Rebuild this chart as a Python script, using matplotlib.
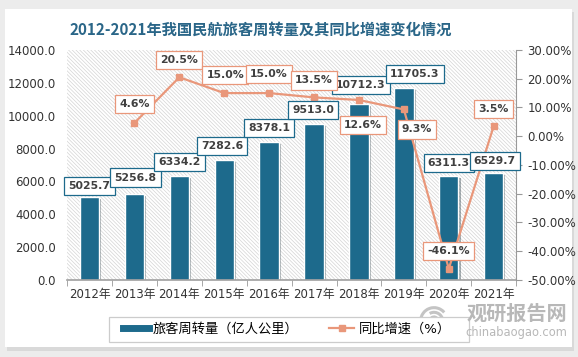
import matplotlib
matplotlib.use('Agg')
import matplotlib.pyplot as plt
import matplotlib.patheffects as pe
from matplotlib.patches import Rectangle, Arc
from matplotlib.lines import Line2D

plt.rcParams['font.family'] = ['DejaVu Sans', 'Noto Sans CJK SC']
plt.rcParams['hatch.linewidth'] = 0.5

years = ['2012年', '2013年', '2014年', '2015年', '2016年',
         '2017年', '2018年', '2019年', '2020年', '2021年']
turnover = [5025.7, 5256.8, 6334.2, 7282.6, 8378.1, 9513.0, 10712.3, 11705.3, 6311.3, 6529.7]
growth = [4.6, 20.5, 15.0, 15.0, 13.5, 12.6, 9.3, -46.1, 3.5]   # 2013-2021

# label offsets (pixels, dx, dy up)
bar_off = [(0, 11), (1, 16), (0, 14), (-2, 14), (0, 14), (-1, 14), (2, 19), (11, 14), (0, 13), (1, 12)]
line_off = [(0, 19), (0, 17), (1, 18), (0, 19), (0, 17), (4, -25), (13, -20), (0, 18), (0, 17)]

blue = '#1d6a8c'
salmon = '#e9977a'
txt = '#404040'

fig = plt.figure(figsize=(5.78, 3.57), dpi=100, facecolor='#ececec')

# card background with a soft shadow
fig.patches.append(Rectangle((0.012, 0.018), 0.981, 0.947, transform=fig.transFigure,
                             facecolor='#d9d9d9', edgecolor='none', zorder=-2))
fig.patches.append(Rectangle((0.0087, 0.028), 0.981, 0.947, transform=fig.transFigure,
                             facecolor='white', edgecolor='none', zorder=-1))

ax1 = fig.add_axes([0.116, 0.216, 0.777, 0.644])
ax2 = ax1.twinx()

ax1.add_patch(Rectangle((0, 0), 1, 1, transform=ax1.transAxes, facecolor='white',
                        edgecolor='#d4d4d4', hatch='\\' * 9, lw=0, zorder=0.5))

x = list(range(len(years)))
bars = ax1.bar(x, turnover, width=0.43, color=blue, edgecolor='white', linewidth=1, zorder=2)
for b in bars:
    b.set_path_effects([pe.SimplePatchShadow(offset=(1.5, -1.5), alpha=0.35), pe.Normal()])

ax1.set_xlim(-0.5, 9.5)
ax1.set_ylim(0, 14000)
ax1.set_yticks(range(0, 14001, 2000))
ax1.set_yticklabels([f'{v:.1f}' for v in range(0, 14001, 2000)], fontsize=8.5, color='#333333')
ax1.set_xticks(x)
ax1.set_xticklabels(years, fontsize=8.5, color='#333333')
ax1.set_xticks([i + 0.5 for i in range(-1, 10)], minor=True)
ax1.tick_params(axis='x', which='major', length=0, pad=6)
ax1.tick_params(axis='x', which='minor', length=4, color='#999999')
ax1.tick_params(axis='y', length=0, pad=8)
for s in ['left', 'top', 'right']:
    ax1.spines[s].set_visible(False)
ax1.spines['bottom'].set_color('#a0a0a0')
ax1.spines['bottom'].set_linewidth(1.2)

ax2.plot(x[1:], growth, color=salmon, lw=1.6, marker='s', ms=5, zorder=3)
ax2.set_ylim(-50, 30)
ax2.set_yticks(range(-50, 31, 10))
ax2.set_yticklabels([f'{v:.2f}%' for v in range(-50, 31, 10)], fontsize=8.5, color='#333333')
ax2.tick_params(axis='y', length=4, color='#999999', pad=4)
for s in ['left', 'top', 'bottom']:
    ax2.spines[s].set_visible(False)
ax2.spines['right'].set_color('#999999')
ax2.spines['right'].set_linewidth(0.8)

for i, v in enumerate(turnover):
    ax2.annotate(f'{v:.1f}', xy=(x[i], v), xycoords=ax1.transData,
                 xytext=bar_off[i], textcoords='offset pixels', ha='center', va='center',
                 fontsize=7.8, fontweight='bold', color=txt, zorder=5,
                 bbox=dict(boxstyle='square,pad=0.38', fc='white', ec=blue, lw=0.9))
for i, v in enumerate(growth):
    ax2.annotate(f'{v:.1f}%', xy=(x[i + 1], v), xytext=line_off[i],
                 textcoords='offset pixels', ha='center', va='center',
                 fontsize=7.8, fontweight='bold', color=txt, zorder=5,
                 bbox=dict(boxstyle='square,pad=0.38', fc='white', ec=salmon, lw=0.9))

fig.text(0.4516, 0.916, '2012-2021年我国民航旅客周转量及其同比增速变化情况',
         ha='center', va='center', fontsize=11, fontweight='bold', color='#2a6688',
         family=['Noto Sans CJK SC'])

# legend: separate frame, wider than its contents
fig.patches.append(Rectangle((109 / 578, 1 - 342 / 357), 360 / 578, 25 / 357,
                             transform=fig.transFigure, facecolor='white',
                             edgecolor='#cccccc', lw=0.9, zorder=1))
handles = [Line2D([], [], color=blue, lw=5),
           Line2D([], [], color=salmon, lw=1.6, marker='s', ms=5)]
leg = fig.legend(handles, ['旅客周转量（亿人公里）', '同比增速（%）'], loc='center',
                 bbox_to_anchor=(0.497, 0.0775), ncol=2, frameon=False,
                 fontsize=9.5, handlelength=1.9, handletextpad=0.35,
                 columnspacing=2.3, borderpad=0, borderaxespad=0)
leg.set_zorder(2)

# watermark
logo = fig.add_axes([415 / 578, 20 / 357, 38 / 578, 32 / 357])
logo.set_xlim(-1.2, 1.2)
logo.set_ylim(-1.2, 1.2)
logo.set_aspect('equal')
logo.axis('off')
for r, a1, a2 in [(1.0, 40, 320), (0.65, 200, 480), (0.3, 0, 270)]:
    logo.add_patch(Arc((0, 0), 2 * r, 2 * r, theta1=a1, theta2=a2, color='#c4c4c4', lw=2.2))
fig.text(0.981, 0.123, '观研报告网', ha='right', va='center', fontsize=14.5,
         fontweight='bold', color='#b8b8b8', family=['Noto Sans CJK SC'])
fig.text(0.981, 0.068, 'chinabaogao.com', ha='right', va='center', fontsize=8.3,
         color='#b8b8b8')

fig.savefig('out.png', dpi=100, facecolor=fig.get_facecolor())
